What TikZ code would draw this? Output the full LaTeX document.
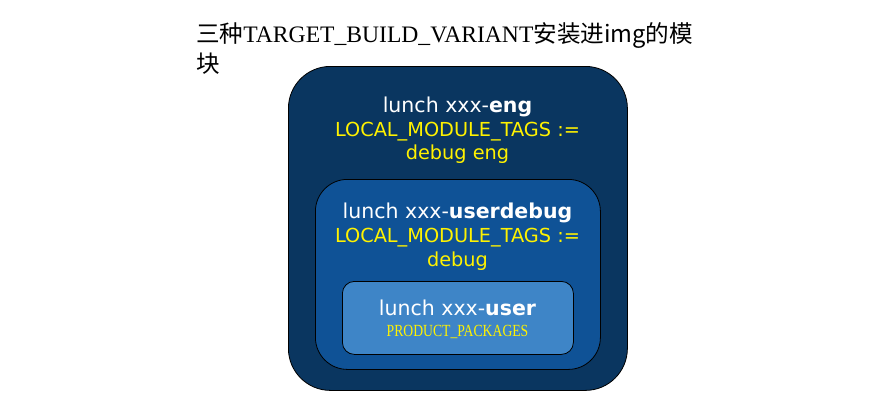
\documentclass[tikz,border=0pt]{standalone}
\usepackage{fontspec}
\setmainfont{Liberation Serif}
\setsansfont{DejaVu Sans}
\newfontfamily\cjk{Noto Sans CJK SC}
\usepackage{tikz}
\usetikzlibrary{positioning}

\definecolor{engblue}{RGB}{10,54,96}
\definecolor{udblue}{RGB}{15,82,150}
\definecolor{userblue}{RGB}{62,133,199}

\begin{document}
\begin{tikzpicture}[x=1pt, y=-1pt,
  box/.style={draw=black, line width=0.8pt, anchor=north west, inner sep=0pt},
  head/.style={text=white, font=\sffamily\fontsize{20.5}{24}\selectfont},
  tags/.style={text=yellow, font=\sffamily\fontsize{19.3}{23.5}\selectfont, align=center}]
\useasboundingbox (0, 0) rectangle (893, 413);

\node[anchor=north west, align=left, inner sep=0pt, font=\fontsize{23.6}{30}\selectfont] (title) at (196, 22)
  {{\cjk 三种}TARGET\_BUILD\_VARIANT{\cjk 安装进img的模}\\{\cjk 块}};

\node[box, fill=engblue, rounded corners=42pt, minimum width=339pt, minimum height=324pt] (eng) at (288, 66) {};
\node[box, fill=udblue, rounded corners=32pt, minimum width=285pt, minimum height=190pt] (userdebug) at (315, 179) {};
\node[box, fill=userblue, rounded corners=12pt, minimum width=231pt, minimum height=73pt] (user) at (342, 281) {};

\node[head] (enghead) at (457.5, 107) {lunch xxx-\textbf{eng}};
\node[tags] (engtags) at (457.5, 143) {LOCAL\_MODULE\_TAGS :=\\debug eng};

\node[head] (udhead) at (457.5, 213) {lunch xxx-\textbf{userdebug}};
\node[tags] (udtags) at (457.5, 249.5) {LOCAL\_MODULE\_TAGS :=\\debug};

\node[head] (userhead) at (457.5, 308) {lunch xxx-\textbf{user}};
\node[text=yellow, font=\rmfamily\fontsize{17}{20}\selectfont] (usertags) at (457.5, 332) {\scalebox{0.805}[1]{PRODUCT\_PACKAGES}};
\end{tikzpicture}
\end{document}
